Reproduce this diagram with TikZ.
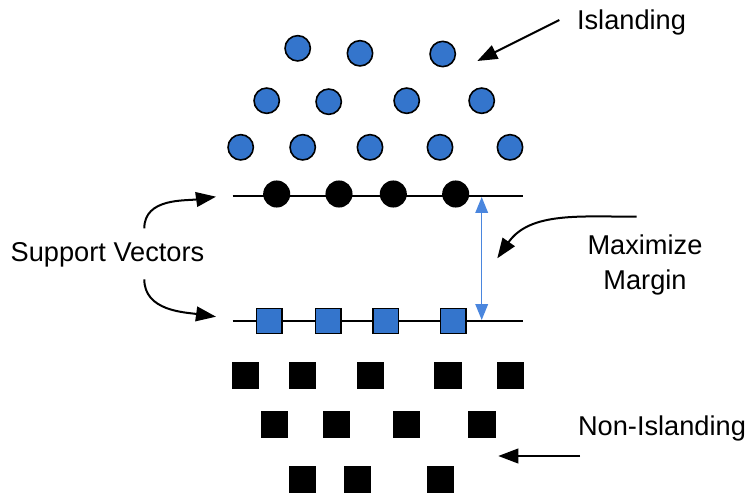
\documentclass[tikz,border=0pt]{standalone}
\usepackage{fontspec}
\setmainfont{Liberation Sans}
\usetikzlibrary{arrows.meta}
\definecolor{svmblue}{RGB}{52,117,204}
\definecolor{arrowblue}{RGB}{74,134,222}
\begin{document}
\begin{tikzpicture}[x=0.75pt,y=-0.75pt,
  bdot/.style={circle,draw=black,line width=1.2pt,fill=svmblue,minimum size=19pt,inner sep=0pt},
  kdot/.style={circle,fill=black,minimum size=20.3pt,inner sep=0pt},
  bsq/.style={rectangle,draw=black,line width=1.2pt,fill=svmblue,minimum size=19pt,inner sep=0pt},
  ksq/.style={rectangle,fill=black,minimum size=20.3pt,inner sep=0pt},
  lbl/.style={font=\fontsize{20.4}{22.7}\selectfont,inner sep=0pt},
  hyper/.style={line width=1.5pt},
  callout/.style={line width=1.5pt,-{Triangle[length=15pt,width=11pt]}},
  margin/.style={line width=1.1pt,draw=arrowblue,{Triangle[length=12pt,width=9.5pt]}-{Triangle[length=12pt,width=9.5pt]}}]
\useasboundingbox (0,0) rectangle (749,495);
% hyperplanes
\coordinate (t1) at (232.7,196);
\coordinate (t2) at (523,196);
\coordinate (b1) at (232.7,321);
\coordinate (b2) at (523,321);
\draw[hyper] (t1) -- (t2);
\draw[hyper] (b1) -- (b2);
% margin arrow
\coordinate (m1) at (481.7,197);
\coordinate (m2) at (481.7,320);
\draw[margin] (m1) -- (m2);
% islanding circles
\node[bdot] (c11) at (297.7,48.3) {};
\node[bdot] (c12) at (360,53.3) {};
\node[bdot] (c13) at (442.7,54) {};
\node[bdot] (c21) at (266.7,100.7) {};
\node[bdot] (c22) at (328.7,101.7) {};
\node[bdot] (c23) at (406.7,100.7) {};
\node[bdot] (c24) at (481.7,100.7) {};
\node[bdot] (c31) at (240.7,147.3) {};
\node[bdot] (c32) at (302.7,147.3) {};
\node[bdot] (c33) at (370,147.3) {};
\node[bdot] (c34) at (440,147.3) {};
\node[bdot] (c35) at (510,147.3) {};
% support vector circles
\node[kdot] (s1) at (276.7,194) {};
\node[kdot] (s2) at (339,194) {};
\node[kdot] (s3) at (393.3,194) {};
\node[kdot] (s4) at (455.7,194) {};
% support vector squares
\node[bsq] (q1) at (269.3,321) {};
\node[bsq] (q2) at (328.3,321) {};
\node[bsq] (q3) at (385.7,321) {};
\node[bsq] (q4) at (453.3,321) {};
% non-islanding squares
\node[ksq] (k11) at (245.7,375.8) {};
\node[ksq] (k12) at (302.8,375.8) {};
\node[ksq] (k13) at (370.3,375.8) {};
\node[ksq] (k14) at (448,375.8) {};
\node[ksq] (k15) at (510.3,375.8) {};
\node[ksq] (k21) at (274.5,424.7) {};
\node[ksq] (k22) at (336.3,424.7) {};
\node[ksq] (k23) at (406.3,424.7) {};
\node[ksq] (k24) at (482,424.7) {};
\node[ksq] (k31) at (302.8,479.2) {};
\node[ksq] (k32) at (357.2,479.2) {};
\node[ksq] (k33) at (440.3,479.2) {};
% labels
\node[lbl,anchor=base] (isl) at (631.5,29.3) {Islanding};
\node[lbl,anchor=base] (sv) at (107.5,261.7) {Support Vectors};
\node[lbl,anchor=north,align=center] (mm) at (645,235) {Maximize\\[3pt]Margin};
\node[lbl,anchor=base] (non) at (662,435) {Non-Islanding};
% callout arrows
\coordinate (ia1) at (559.3,20);
\coordinate (ia2) at (477.3,61);
\draw[callout] (ia1) -- (ia2);
\coordinate (sa1) at (144.3,228.3);
\coordinate (sa2) at (216,196.7);
\draw[callout] (sa1) to[out=90,in=188] (sa2);
\coordinate (sb1) at (144.3,279.3);
\coordinate (sb2) at (216,316.7);
\draw[callout] (sb1) to[out=-90,in=172] (sb2);
\coordinate (ma1) at (636.7,216.7);
\coordinate (ma2) at (497.3,258.3);
\draw[callout] (ma1) to[out=180,in=55] (ma2);
\coordinate (na1) at (580,456);
\coordinate (na2) at (498.3,456);
\draw[callout] (na1) -- (na2);
\end{tikzpicture}
\end{document}
